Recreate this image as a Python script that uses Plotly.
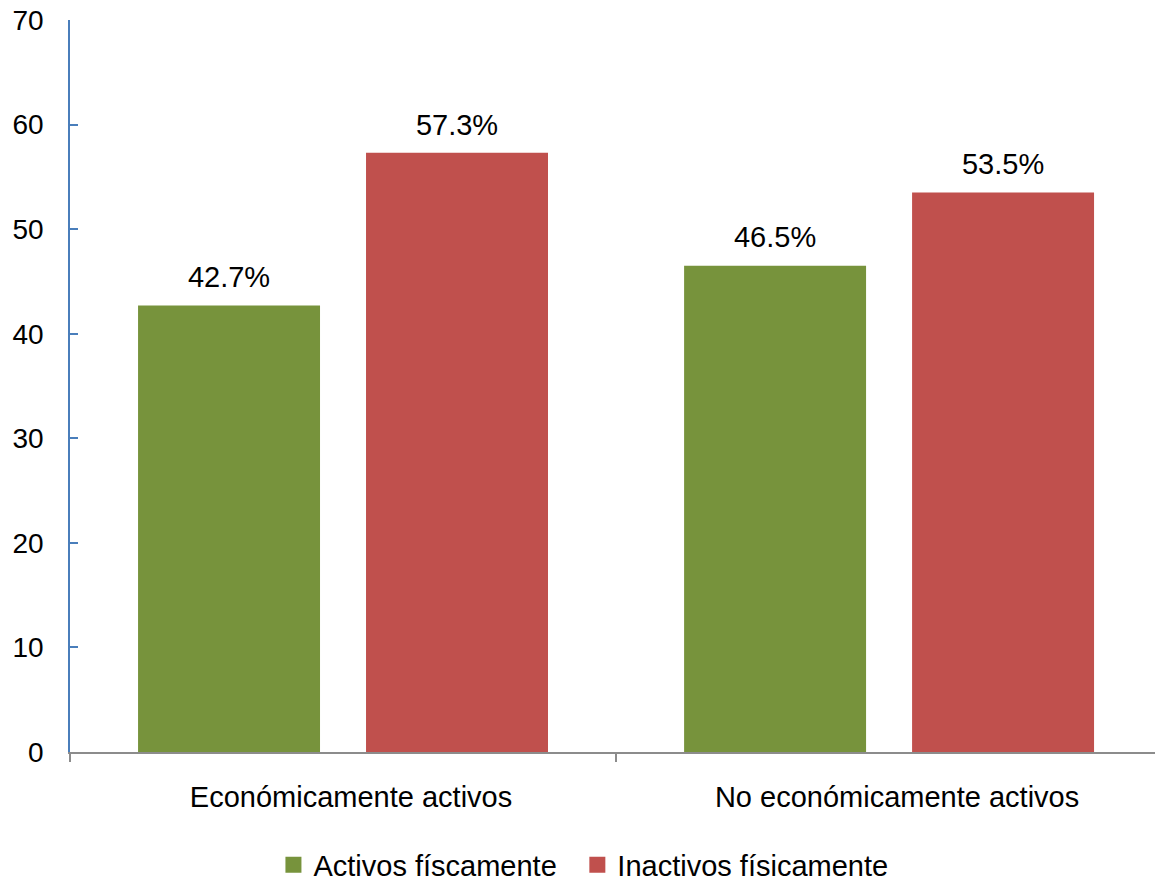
import plotly.graph_objects as go

categories = ["Económicamente activos", "No económicamente activos"]
activos = [42.7, 46.5]
inactivos = [57.3, 53.5]
series_names = ["Activos físcamente", "Inactivos físicamente"]
colors = ["#77933C", "#C0504D"]

FONT = "Liberation Sans, Arial, sans-serif"
GAP = 0.165

fig = go.Figure()
for name, vals, col in zip(series_names, [activos, inactivos], colors):
    fig.add_trace(go.Bar(
        x=categories, y=vals, name=name, marker_color=col,
        marker_line_width=0, showlegend=False, hoverinfo="skip",
    ))
for name, vals in zip(series_names, [activos, inactivos]):
    fig.add_trace(go.Scatter(
        x=categories, y=vals, mode="markers+text",
        marker=dict(size=16, color="rgba(0,0,0,0)"),
        text=[f"{v:.1f}%" for v in vals], textposition="top center",
        textfont=dict(size=29, color="#000000", family=FONT),
        showlegend=False, hoverinfo="skip", cliponaxis=False,
    ))
# legend entries (one legend each, to control spacing)
for name, col, lg in zip(series_names, colors, ["legend", "legend2"]):
    fig.add_trace(go.Scatter(
        x=[None], y=[None], mode="markers", name=name,
        marker=dict(symbol="square", size=16, color=col),
        xaxis="x2", yaxis="y2", legend=lg,
    ))

legend_style = dict(orientation="h", xanchor="left", y=-0.1544, yanchor="middle",
                    font=dict(size=29), itemwidth=30, bgcolor="rgba(0,0,0,0)")
fig.update_layout(
    width=1155, height=881,
    margin=dict(l=70, r=0, t=20, b=129, autoexpand=False),
    paper_bgcolor="white", plot_bgcolor="white",
    barmode="group", bargap=GAP, bargroupgap=0.2018,
    scattermode="group", scattergap=GAP,
    font=dict(family=FONT, size=29, color="#000000"),
    legend=dict(x=0.1875, **legend_style),
    legend2=dict(x=0.4676, **legend_style),
    showlegend=True,
    xaxis2=dict(visible=False, overlaying="x"),
    yaxis2=dict(visible=False, overlaying="y"),
    yaxis=dict(range=[0, 70], dtick=10, showgrid=False, zeroline=False,
               showline=True, linecolor="#4A7EBB", linewidth=1.5,
               ticks="inside", ticklen=8, tickcolor="#4A7EBB", tickwidth=1.5,
               ticklabelstandoff=19, tickfont=dict(size=28)),
    xaxis=dict(range=[-0.5, 1.487], showgrid=False, showline=True,
               linecolor="#8C8C8C", linewidth=2, ticks="outside", ticklen=8,
               tickcolor="#8C8C8C", tickwidth=2, tickson="boundaries",
               ticklabelstandoff=18, ticklabelshift=8, tickfont=dict(size=29)),
)

fig.write_html("out.html")
